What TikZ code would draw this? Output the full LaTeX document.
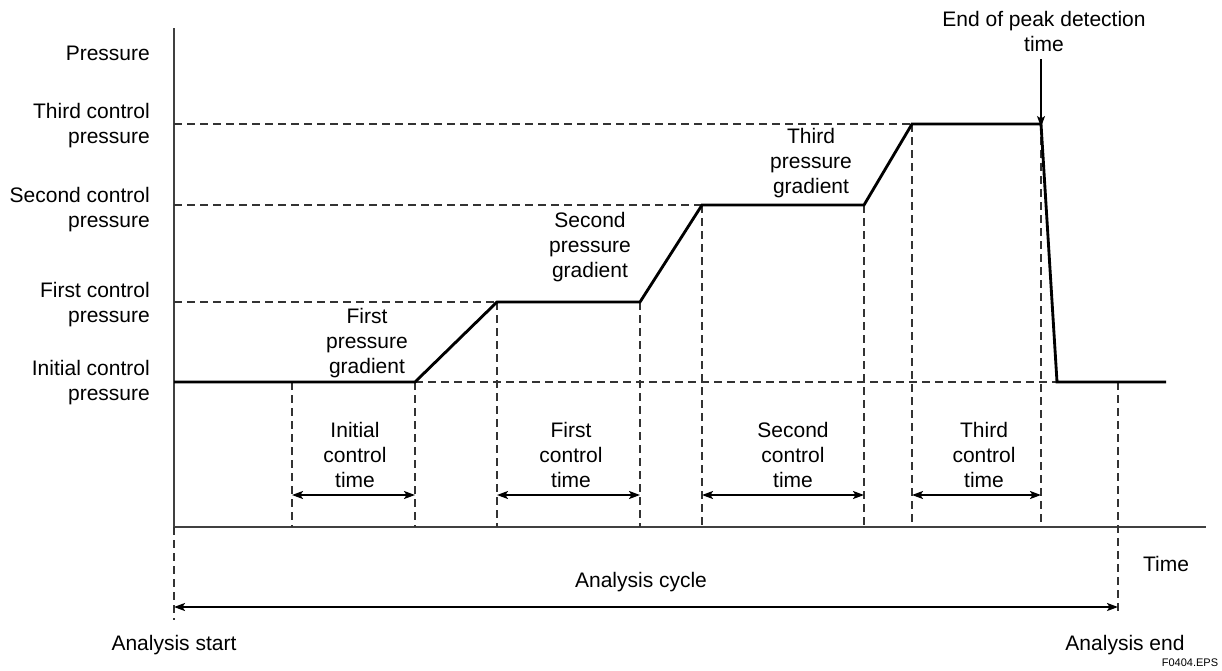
\documentclass[tikz,border=0pt]{standalone}
\usepackage{fontspec}
\setmainfont{Liberation Sans}
\usetikzlibrary{positioning}
\usetikzlibrary{arrows.meta}
\tikzset{
  lbl/.style={font=\fontsize{21}{25}\selectfont, align=center, inner sep=0pt},
  guide/.style={line width=0.4mm, dash pattern=on 8pt off 5pt, black!80},
  curve/.style={line width=1mm, line join=miter},
  tip/.style={Stealth[length=11pt,width=8pt,inset=2.5pt]},
  span/.style={line width=0.6mm, arrows={Stealth[length=11pt,width=8pt,inset=2.5pt]-Stealth[length=11pt,width=8pt,inset=2.5pt]}}
}

\begin{document}
\begin{tikzpicture}[x=1pt,y=-1pt]
        \useasboundingbox (0,0) rectangle (1222,670);
        % Draw coordinate system
        \coordinate (ytop) at (174,28);
        \coordinate (orig) at (174,527);
        \coordinate (xend) at (1206,527);
        \draw [line width=0.8mm, black!75] (ytop) -- (orig) -- (xend);
        % Corner points of the pressure curve
        \coordinate (p0) at (174,382);
        \coordinate (p1) at (415,382);
        \coordinate (p2) at (497,302);
        \coordinate (p3) at (640,302);
        \coordinate (p4) at (702,205);
        \coordinate (p5) at (864,205);
        \coordinate (p6) at (912,124);
        \coordinate (p7) at (1041,124);
        \coordinate (p8) at (1057,382);
        \coordinate (p9) at (1166,382);
        \coordinate (t0) at (292,382);
        \coordinate (tend) at (1118,382);
        % Pressure levels
        \draw [guide] (174,124) -- (p6);
        \draw [guide] (174,205) -- (p4);
        \draw [guide] (174,302) -- (p2);
        \draw [guide] (p1) -- (p8);
        % Time marks
        \foreach \p in {t0,p1,p2,p3,p4,p5,p6,p7}
          \draw [guide] (\p) -- (\p |- orig);
        \draw [guide] (orig) -- ++(0,93);
        \draw [guide] (tend) -- ++(0,233);
        % Pressure curve
        \draw [curve] (p0) -- (p1) -- (p2) -- (p3) -- (p4) -- (p5) -- (p6) -- (p7) -- (p8) -- (p9);
        % Control times (use arrows command to insert arrow of choice)
        \draw [span] (292,495) -- (415,495);
        \draw [span] (497,495) -- (640,495);
        \draw [span] (702,495) -- (864,495);
        \draw [span] (912,495) -- (1041,495);
        \draw [span] (174,607) -- (1118,607);
        % Pressure labels
        \node [lbl, anchor=east] (pres) at (150,53) {Pressure};
        \node [lbl, anchor=east, align=right] (third) at (150,126) {Third control\\pressure};
        \node [lbl, anchor=east, align=right] (second) at (150,210) {Second control\\pressure};
        \node [lbl, anchor=east, align=right] (first) at (150,305) {First control\\pressure};
        \node [lbl, anchor=east, align=right] (initial) at (150,383) {Initial control\\pressure};
        % Gradient labels
        \node [lbl] (grad1) at (367,343) {First\\pressure\\gradient};
        \node [lbl] (grad2) at (590,247) {Second\\pressure\\gradient};
        \node [lbl] (grad3) at (811,163) {Third\\pressure\\gradient};
        % End of peak detection
        \node [lbl] (peak) at (1044,31) {End of peak detection\\time};
        \coordinate (peaktail) at (1041,59);
        \draw [line width=0.4mm, arrows={-Stealth[length=11pt,width=8pt,inset=2.5pt]}] (peaktail) -- ([yshift=-3pt]p7);
        % Time labels
        \node [lbl] (ctime0) at (355,455) {Initial\\control\\time};
        \node [lbl] (ctime1) at (571,455) {First\\control\\time};
        \node [lbl] (ctime2) at (793,455) {Second\\control\\time};
        \node [lbl] (ctime3) at (984,455) {Third\\control\\time};
        \node [lbl] (cycle) at (641,582) {Analysis cycle};
        \node [lbl] (time) at (1166,564) {Time};
        \node [lbl] (start) at (174,645) {Analysis start};
        \node [lbl] (end) at (1125,645) {Analysis end};
        \node [inner sep=0pt, font=\fontsize{11}{12}\selectfont] (fig) at (1190,663) {F0404.EPS};
      \end{tikzpicture}
\end{document}
